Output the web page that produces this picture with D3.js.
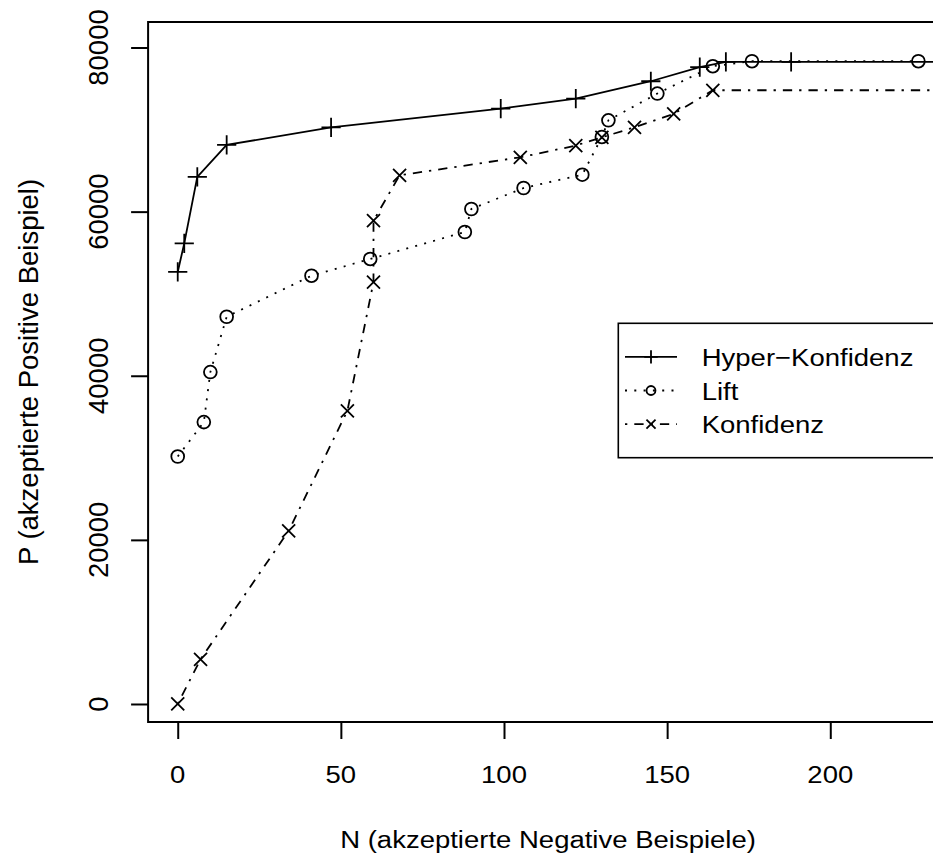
<!DOCTYPE html>
<html>
<head>
<meta charset="utf-8">
<script src="https://cdn.jsdelivr.net/npm/d3@7"></script>
<style>
  html, body { margin: 0; padding: 0; background: #fff; }
  svg { display: block; }
  text { font-family: "Liberation Sans", Arial, Helvetica, sans-serif; fill: #000; }
</style>
</head>
<body>
<svg id="chart" width="933" height="859"></svg>
<script>
// ---------------- data ----------------
const hyperN = [0, 2, 6, 15, 47, 99, 122, 145, 160, 168, 188, 240];
const hyperP = [52650, 56130, 64230, 68130, 70280, 72560, 73780, 75890, 77600, 78250, 78250, 78250];

const liftN = [0, 8, 10, 15, 41, 59, 88, 90, 106, 124, 130, 132, 147, 164, 176, 227];
const liftP = [30160, 34350, 40450, 47190, 52190, 54230, 57520, 60320, 62880, 64500, 69100, 71130, 74390, 77720, 78330, 78330];

const konfN = [0, 7, 34, 52, 60, 60, 68, 105, 122, 130, 140, 152, 164, 240];
const konfP = [0, 5450, 21100, 35730, 51420, 58900, 64430, 66620, 68050, 69060, 70280, 71910, 74790, 74790];

const seriesNames = ["Hyper\u2212Konfidenz", "Lift", "Konfidenz"];
const xTicks = [0, 50, 100, 150, 200];
const yTicks = [0, 20000, 40000, 60000, 80000];
const xLabel = "N (akzeptierte Negative Beispiele)";
const yLabel = "P (akzeptierte Positive Beispiel)";

const xLim = [0, 227];
const yDomain = [-2195, 83110];

// ---------------- layout ----------------
const plot = { left: 148.1, right: 948, top: 22, bottom: 722 };
const FS = 27.5, SY = 0.9;

const xPad = (xLim[1] - xLim[0]) * 0.04;
const x = d3.scaleLinear().domain([xLim[0] - xPad, xLim[1] + xPad]).range([plot.left, plot.right]);
const y = d3.scaleLinear().domain(yDomain).range([plot.bottom, plot.top]);

const svg = d3.select("#chart");

svg.append("defs").append("clipPath").attr("id", "clip")
  .append("rect").attr("x", plot.left).attr("y", plot.top)
  .attr("width", plot.right - plot.left).attr("height", plot.bottom - plot.top);

function plusPath(s) { return `M${-s},0H${s}M0,${-s}V${s}`; }
function crossPath(s) { return `M${-s},${-s}L${s},${s}M${-s},${s}L${s},${-s}`; }

const series = [
  { name: seriesNames[0], N: hyperN, P: hyperP, dash: null, sym: "plus" },
  { name: seriesNames[1], N: liftN, P: liftP, dash: "2,7.3", sym: "circle" },
  { name: seriesNames[2], N: konfN, P: konfP, dash: "2.3,7,9.3,7", sym: "cross" }
];

function drawSym(g, sym, cx, cy, scale) {
  const k = scale || 1;
  if (sym === "plus") {
    g.append("path").attr("d", plusPath(9.6 * k)).attr("transform", `translate(${cx},${cy})`)
      .attr("stroke", "#000").attr("stroke-width", 1.8).attr("fill", "none");
  } else if (sym === "circle") {
    g.append("circle").attr("cx", cx).attr("cy", cy).attr("r", 6.4 * k)
      .attr("stroke", "#000").attr("stroke-width", 1.8).attr("fill", "none");
  } else {
    g.append("path").attr("d", crossPath(6.5 * k)).attr("transform", `translate(${cx},${cy})`)
      .attr("stroke", "#000").attr("stroke-width", 1.8).attr("fill", "none");
  }
}

const gData = svg.append("g").attr("clip-path", "url(#clip)");
const line = d3.line().x(d => x(d[0])).y(d => y(d[1]));

series.forEach(s => {
  const pts = s.N.map((n, i) => [n, s.P[i]]);
  const p = gData.append("path").datum(pts).attr("d", line)
    .attr("fill", "none").attr("stroke", "#000").attr("stroke-width", 1.8);
  if (s.dash) p.attr("stroke-dasharray", s.dash);
  pts.forEach(d => drawSym(gData, s.sym, x(d[0]), y(d[1])));
});

// frame
svg.append("rect").attr("x", plot.left).attr("y", plot.top)
  .attr("width", plot.right - plot.left).attr("height", plot.bottom - plot.top)
  .attr("fill", "none").attr("stroke", "#000").attr("stroke-width", 2);

// axes
const xAxis = svg.append("g").attr("transform", `translate(0,${plot.bottom})`)
  .call(d3.axisBottom(x).tickValues(xTicks).tickSize(17).tickFormat(""));
xAxis.select(".domain").remove();
xAxis.selectAll("line").attr("stroke-width", 2);

const yAxis = svg.append("g").attr("transform", `translate(${plot.left},0)`)
  .call(d3.axisLeft(y).tickValues(yTicks).tickSize(17).tickFormat(""));
yAxis.select(".domain").remove();
yAxis.selectAll("line").attr("stroke-width", 2);

// tick labels
svg.append("g").selectAll("text").data(xTicks).join("text")
  .attr("transform", d => `translate(${x(d)},783) scale(1,${SY})`)
  .attr("text-anchor", "middle").attr("font-size", FS).text(d => d);

svg.append("g").selectAll("text").data(yTicks).join("text")
  .attr("transform", d => `translate(108.3,${y(d)}) rotate(-90)`)
  .attr("text-anchor", "middle").attr("font-size", FS).text(d => d);

// axis titles
svg.append("text")
  .attr("transform", `translate(${(plot.left + plot.right) / 2},848) scale(1,${SY})`)
  .attr("text-anchor", "middle").attr("font-size", FS).text(xLabel);

svg.append("text")
  .attr("transform", `translate(38,${(plot.top + plot.bottom) / 2}) rotate(-90)`)
  .attr("text-anchor", "middle").attr("font-size", FS).text(yLabel);

// legend
const leg = { left: 618.3, top: 323.3, bottom: 457.7, right: plot.right, row: 33.6 };
const gLeg = svg.append("g");
gLeg.append("rect").attr("x", leg.left).attr("y", leg.top)
  .attr("width", leg.right - leg.left).attr("height", leg.bottom - leg.top)
  .attr("fill", "#fff").attr("stroke", "#000").attr("stroke-width", 1.6);

series.forEach((s, i) => {
  const cy = leg.top + leg.row * (i + 1);
  const l = gLeg.append("line").attr("x1", 625).attr("x2", 677).attr("y1", cy).attr("y2", cy)
    .attr("stroke", "#000").attr("stroke-width", 1.8);
  if (s.dash) l.attr("stroke-dasharray", s.dash);
  drawSym(gLeg, s.sym, 651, cy, 0.7);
  gLeg.append("text")
    .attr("transform", `translate(701.7,${cy + 9}) scale(1,${SY})`)
    .attr("font-size", FS).text(s.name);
});
</script>
</body>
</html>
